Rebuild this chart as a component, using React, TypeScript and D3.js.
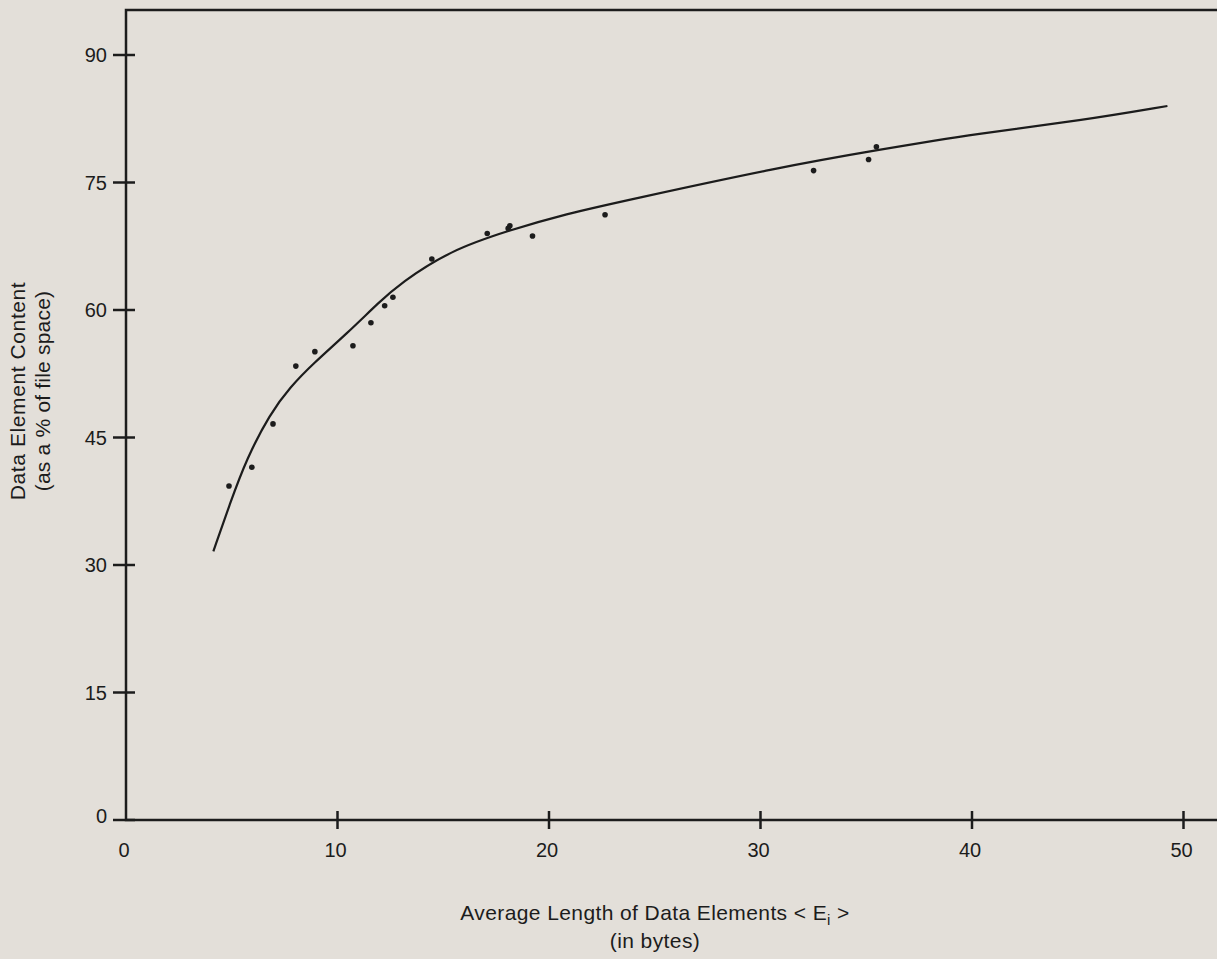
import React, { useEffect, useRef } from 'react';
import * as d3 from 'd3';

// measured points (avg element length, % of file space)
const pointX = [4.87, 5.95, 6.95, 8.03, 8.93, 10.73, 11.58, 12.23, 12.62, 14.46, 17.08, 18.07, 18.15, 19.22, 22.65, 32.51, 35.11, 35.48];
const pointY = [39.3, 41.5, 46.6, 53.4, 55.1, 55.8, 58.5, 60.5, 61.5, 66.0, 69.0, 69.6, 69.9, 68.7, 71.2, 76.4, 77.7, 79.2];

// fitted curve
const curveX = [4.13, 4.91, 5.7, 6.81, 7.75, 8.85, 10.43, 12.0, 12.95, 15.31, 18.15, 20.8, 23.66, 30.9, 35.48, 40.36, 45.2, 49.24];
const curveY = [31.6, 37.2, 42.5, 47.8, 50.9, 53.7, 57.2, 61.0, 63.1, 67.0, 69.4, 71.3, 72.9, 76.8, 78.8, 80.8, 82.3, 84.0];

const xTicks = [0, 10, 20, 30, 40, 50];
const yTicks = [0, 15, 30, 45, 60, 75, 90];

const W = 1217;
const H = 959;

const App = () => {
  const svgRef = useRef<SVGSVGElement>(null);

  useEffect(() => {
    const svg = d3.select(svgRef.current);
    svg.selectAll('*').remove();

    const ink = '#1c1c1c';
    const font = '"Liberation Sans", Arial, sans-serif';

    const x = d3.scaleLinear().domain([0, 50]).range([126, 1183.5]);
    const y = d3.scaleLinear().domain([0, 90]).range([820, 55]);

    svg.append('rect').attr('width', W).attr('height', H).attr('fill', '#e3dfd9');

    // frame: top, left, bottom
    svg.append('path')
      .attr('d', `M${W},10 H${x(0)} V${y(0)} H${W}`)
      .attr('fill', 'none')
      .attr('stroke', ink)
      .attr('stroke-width', 2.5);

    // y ticks cross the axis
    const yg = svg.append('g');
    yg.selectAll('line').data(yTicks).enter().append('line')
      .attr('x1', x(0) - 13).attr('x2', x(0) + 9)
      .attr('y1', d => y(d)).attr('y2', d => y(d))
      .attr('stroke', ink).attr('stroke-width', 2.5);
    yg.selectAll('text').data(yTicks).enter().append('text')
      .attr('x', 107).attr('y', d => y(d) - (d === 0 ? 4 : 0))
      .attr('dy', '0.35em')
      .attr('text-anchor', 'end')
      .attr('font-family', font).attr('font-size', 20).attr('fill', ink)
      .text(d => d);

    // x ticks
    const xg = svg.append('g');
    xg.selectAll('line').data(xTicks.filter(d => d > 0)).enter().append('line')
      .attr('x1', d => x(d)).attr('x2', d => x(d))
      .attr('y1', y(0) - 9).attr('y2', y(0) + 9)
      .attr('stroke', ink).attr('stroke-width', 2.5);
    xg.selectAll('text').data(xTicks).enter().append('text')
      .attr('x', d => x(d) - 2).attr('y', 857)
      .attr('text-anchor', 'middle')
      .attr('font-family', font).attr('font-size', 20).attr('fill', ink)
      .text(d => d);

    // fitted curve
    const line = d3.line<number>()
      .x(i => x(curveX[i]))
      .y(i => y(curveY[i]))
      .curve(d3.curveBasis);
    svg.append('path')
      .attr('d', line(d3.range(curveX.length)))
      .attr('fill', 'none')
      .attr('stroke', ink)
      .attr('stroke-width', 2.2);

    // measured points
    svg.append('g').selectAll('circle').data(d3.range(pointX.length)).enter().append('circle')
      .attr('cx', i => x(pointX[i]))
      .attr('cy', i => y(pointY[i]))
      .attr('r', 2.8)
      .attr('fill', ink);

    // axis titles
    const xt = svg.append('text')
      .attr('x', 655).attr('y', 920)
      .attr('text-anchor', 'middle')
      .attr('font-family', font).attr('font-size', 21).attr('letter-spacing', 0.4).attr('fill', ink);
    xt.append('tspan').text('Average Length of Data Elements < E');
    xt.append('tspan').attr('font-size', 15).attr('dy', 5).text('i');
    xt.append('tspan').attr('dy', -5).text(' >');
    svg.append('text')
      .attr('x', 655).attr('y', 948)
      .attr('text-anchor', 'middle')
      .attr('font-family', font).attr('font-size', 21).attr('letter-spacing', 0.4).attr('fill', ink)
      .text('(in bytes)');

    const yt = svg.append('g').attr('transform', 'translate(0,391) rotate(-90)');
    yt.append('text').attr('x', 0).attr('y', 25)
      .attr('text-anchor', 'middle')
      .attr('font-family', font).attr('font-size', 21).attr('letter-spacing', 0.6).attr('fill', ink)
      .text('Data Element Content');
    yt.append('text').attr('x', 0).attr('y', 50)
      .attr('text-anchor', 'middle')
      .attr('font-family', font).attr('font-size', 21).attr('letter-spacing', 0.2).attr('fill', ink)
      .text('(as a % of file space)');

    return () => { svg.selectAll('*').remove(); };
  }, []);

  return (
    <svg
      ref={svgRef}
      width={W}
      height={H}
      style={{ position: 'absolute', left: 0, top: 0, display: 'block' }}
    />
  );
};

export default App;
